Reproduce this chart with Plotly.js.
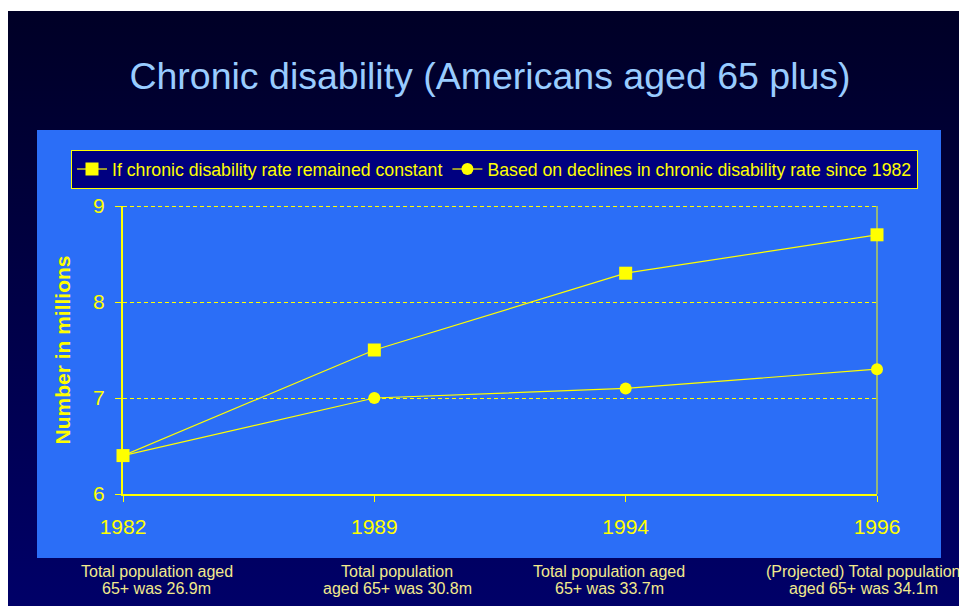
<!DOCTYPE html>
<html>
<head>
<meta charset="utf-8">
<script src="https://cdn.plot.ly/plotly-3.0.1.min.js"></script>
<style>
  html, body { margin: 0; padding: 0; background: #ffffff; }
  #bg { position: absolute; left: 8px; top: 11px; width: 951px; height: 595px;
        background: linear-gradient(to bottom, #000026 0%, #000068 100%); }
  #chart { position: absolute; left: 0; top: 0; width: 959px; height: 606px; }
</style>
</head>
<body>
<div id="bg"></div>
<div id="chart"></div>
<script>
// ---- data ----
const years = ["1982", "1989", "1994", "1996"];
const constantRate = [6.4, 7.5, 8.3, 8.7];
const decliningRate = [6.4, 7.0, 7.1, 7.3];
const seriesNames = [
  "If chronic disability rate remained constant",
  "Based on declines in chronic disability rate since 1982"
];
const populationNotes = [
  ["Total population aged", "65+ was 26.9m"],
  ["Total population", "aged 65+ was 30.8m"],
  ["Total population aged", "65+ was 33.7m"],
  ["(Projected) Total population", "aged 65+ was 34.1m"]
];
const yTicks = [6, 7, 8, 9];
const yRange = [6, 9];

// ---- layout helpers ----
const YELLOW = "#ffff00";
const FONT = "Liberation Sans, Arial, sans-serif";
const PLOT_L = 123, PLOT_W = 754, PLOT_T = 206, PLOT_H = 288;
const px = v => (v - PLOT_L) / PLOT_W;
const py = v => (PLOT_T + PLOT_H - v) / PLOT_H;
const halfPx = 0.5 * (yRange[1] - yRange[0]) / PLOT_H;
const noteX = [156.5, 397, 609, 863];
const noteLineY = [571, 588];

const traces = [
  {
    x: years, y: constantRate, name: seriesNames[0],
    type: "scatter", mode: "lines+markers", cliponaxis: false,
    line: { color: YELLOW, width: 1.2 },
    marker: { symbol: "square", size: 13, color: YELLOW }
  },
  {
    x: years, y: decliningRate, name: seriesNames[1],
    type: "scatter", mode: "lines+markers", cliponaxis: false,
    line: { color: YELLOW, width: 1.2 },
    marker: { symbol: "circle", size: 12, color: YELLOW }
  }
];

const annotations = [];
populationNotes.forEach((lines, i) => {
  lines.forEach((t, j) => {
    annotations.push({
      text: t, xref: "paper", yref: "paper",
      x: px(noteX[i]), y: py(noteLineY[j]),
      xanchor: "center", yanchor: "middle", showarrow: false,
      font: { family: FONT, size: 16, color: "#f2ea8c" }
    });
  });
});

const shapes = [
  {
    type: "rect", xref: "paper", yref: "paper",
    x0: px(37), x1: px(941), y0: py(558), y1: py(130),
    fillcolor: "#2b6ef7", line: { width: 0 }, layer: "below"
  },
  {
    type: "line", xref: "paper", yref: "paper",
    x0: 1, x1: 1, y0: 0, y1: 1,
    line: { color: YELLOW, width: 1 }, layer: "below"
  }
];
// dashed gridlines (crisp, half-pixel aligned) at every tick above the baseline
yTicks.filter(v => v > yRange[0]).forEach(v => {
  shapes.push({
    type: "line", xref: "paper", yref: "y",
    x0: 0, x1: 1, y0: v - halfPx, y1: v - halfPx,
    line: { color: YELLOW, width: 1, dash: "4px,3px" }, layer: "below"
  });
});

const layout = {
  width: 959, height: 606,
  paper_bgcolor: "rgba(0,0,0,0)",
  plot_bgcolor: "rgba(0,0,0,0)",
  margin: { l: PLOT_L, r: 959 - PLOT_L - PLOT_W, t: PLOT_T, b: 606 - PLOT_T - PLOT_H },
  font: { family: FONT, color: YELLOW },
  showlegend: true,
  title: {
    text: "Chronic disability (Americans aged 65 plus)",
    font: { family: FONT, size: 37.5, color: "#99ccff" },
    x: px(490), xanchor: "center", xref: "paper",
    y: 1 - 76 / 606, yanchor: "middle", yref: "container"
  },
  legend: {
    orientation: "h",
    x: px(71), xanchor: "left",
    y: py(150), yanchor: "top",
    bgcolor: "#000080", bordercolor: YELLOW, borderwidth: 1,
    font: { family: FONT, size: 17.7, color: YELLOW },
    itemclick: false
  },
  xaxis: {
    type: "category",
    range: [0, 3],
    showgrid: false,
    showline: true, linecolor: YELLOW, linewidth: 2,
    ticks: "outside", ticklen: 6, tickcolor: YELLOW, tickwidth: 1,
    tickfont: { family: FONT, size: 21, color: YELLOW },
    ticklabelstandoff: 7,
    zeroline: false, fixedrange: true
  },
  yaxis: {
    range: yRange,
    tickvals: yTicks,
    showgrid: false,
    showline: true, linecolor: YELLOW, linewidth: 2,
    ticks: "outside", ticklen: 6, tickcolor: YELLOW, tickwidth: 1,
    tickfont: { family: FONT, size: 21, color: YELLOW },
    ticklabelstandoff: 6,
    zeroline: false, fixedrange: true,
    title: {
      text: "<b>Number in millions</b>",
      font: { family: FONT, size: 21, color: YELLOW },
      standoff: 17
    }
  },
  shapes: shapes,
  annotations: annotations
};

Plotly.newPlot("chart", traces, layout, { displayModeBar: false, staticPlot: true });
</script>
</body>
</html>
